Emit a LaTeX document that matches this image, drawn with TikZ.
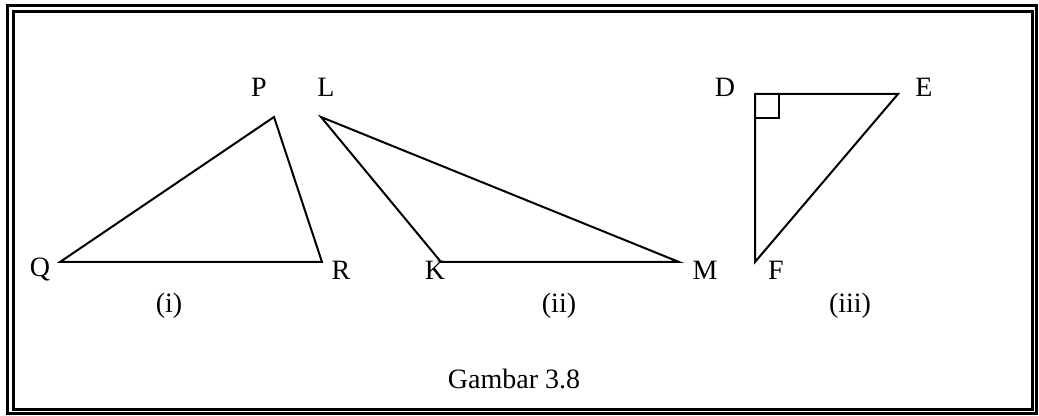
\documentclass[tikz,border=0pt]{standalone}
\usepackage{fontspec}
\setmainfont{Liberation Serif}
\usepackage{tikz}

\begin{document}
\begin{tikzpicture}[x=0.5pt, y=-0.5pt, line width=1pt, every node/.style={font=\fontsize{14}{16}\selectfont, inner sep=0pt}]
\useasboundingbox (0,0) rectangle (1039,416);
\draw[line width=1.6pt] (7.5,5.5) rectangle (1036.5,413.5);
\draw[line width=1.2pt] (13.5,11.5) rectangle (1032.5,409.5);
% triangle (i)
\coordinate (Q) at (60,262);
\coordinate (R) at (322,262);
\coordinate (P) at (274,117);
\draw (Q) -- (R) -- (P) -- cycle;
\node (labP) at (259,87) {P};
\node (labQ) at (40,270) {Q};
\node (labR) at (341,270) {R};
\node (capi) at (169,306) {(i)};
% triangle (ii)
\coordinate (L) at (321,117);
\coordinate (K) at (441,262);
\coordinate (M) at (679,262);
\draw (L) -- (K) -- (M) -- cycle;
\node (labL) at (326,87) {L};
\node (labK) at (435,270) {K};
\node (labM) at (705,270) {M};
\node (capii) at (559,306) {(ii)};
% triangle (iii)
\coordinate (D) at (755,94);
\coordinate (E) at (898,94);
\coordinate (F) at (755,262);
\draw (D) -- (E) -- (F) -- cycle;
\draw (D) ++(0,24) -- ++(24,0) -- ++(0,-24);
\node (labD) at (725,87) {D};
\node (labE) at (924,87) {E};
\node (labF) at (776,270) {F};
\node (capiii) at (850,306) {(iii)};
\node (title) at (514,379) {Gambar 3.8};
\end{tikzpicture}
\end{document}
